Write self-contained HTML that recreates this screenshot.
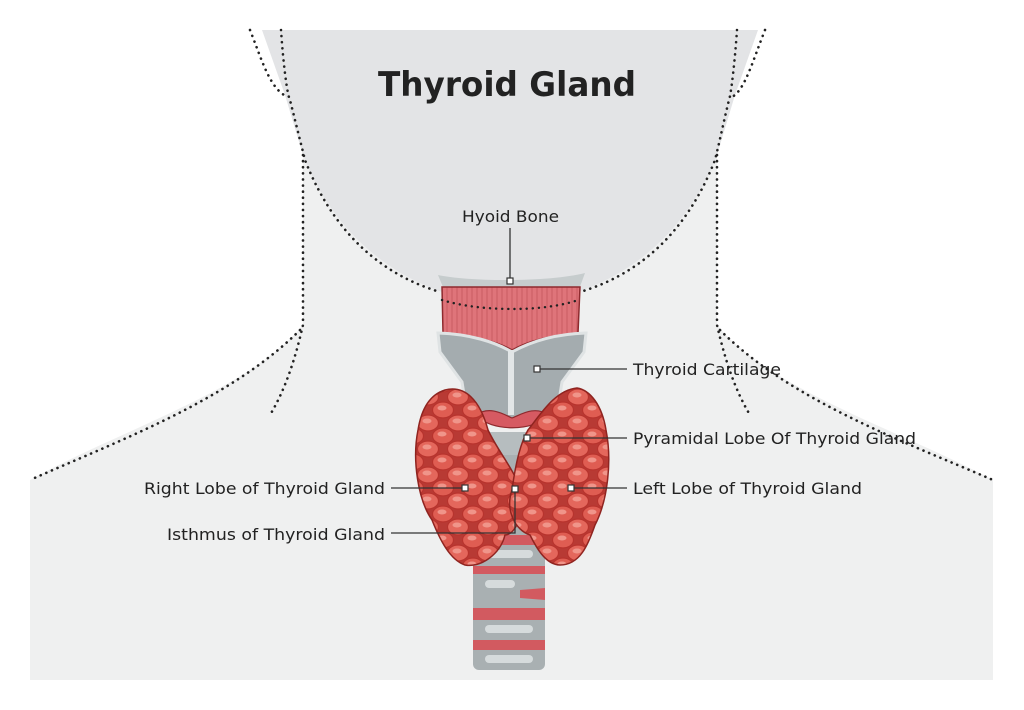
<!DOCTYPE html>
<html><head><meta charset="utf-8"><style>
html,body{margin:0;padding:0;background:#fff;width:1024px;height:710px;overflow:hidden}
svg{display:block}
text{font-family:"DejaVu Sans","Liberation Sans",sans-serif;fill:#222}
</style></head><body>
<svg width="1024" height="710" viewBox="0 0 1024 710">
<defs>
<pattern id="blob" width="30" height="26" patternUnits="userSpaceOnUse">
<rect width="30" height="26" fill="#b83a34"/>
<ellipse cx="8" cy="7" rx="10.5" ry="8" fill="#e4675c" stroke="#b8332d" stroke-width="1.2"/>
<ellipse cx="23" cy="20" rx="10.5" ry="8" fill="#df5d52" stroke="#b8332d" stroke-width="1.2"/>
<ellipse cx="23" cy="-6" rx="10.5" ry="8" fill="#df5d52" stroke="#b8332d" stroke-width="1.2"/>
<ellipse cx="-7" cy="20" rx="10.5" ry="8" fill="#df5d52" stroke="#b8332d" stroke-width="1.2"/>
<ellipse cx="38" cy="7" rx="10.5" ry="8" fill="#e4675c" stroke="#b8332d" stroke-width="1.2"/>
<ellipse cx="8" cy="33" rx="10.5" ry="8" fill="#e4675c" stroke="#b8332d" stroke-width="1.2"/>
<ellipse cx="7" cy="5" rx="4.5" ry="2.5" fill="#f0958a"/>
<ellipse cx="22" cy="18" rx="4.5" ry="2.5" fill="#f0958a"/>
</pattern>
<pattern id="musc" width="5" height="10" patternUnits="userSpaceOnUse">
<rect width="5" height="10" fill="#df747a"/>
<line x1="2" y1="0" x2="2" y2="10" stroke="#c4555d" stroke-width="0.8"/>
</pattern>
</defs>
<path d="M303,155 L303,325 C250,390 120,430 30,480 L30,680 L993,680 L993,480 C900,430 770,390 717,325 L717,155 Z" fill="#eff0f0"/>
<path d="M262,30 L758,30 L735,95 L717,155 C680,250 600,300 510,305 C420,300 340,250 303,155 L285,95 Z" fill="#e3e4e6"/>
<g fill="none" stroke="#222" stroke-width="2.6" stroke-dasharray="0.1 6" stroke-linecap="round">
<path d="M250,30 C262,60 270,90 288,97"/>
<path d="M281,30 C283,60 287,95 290,100 C295,120 300,140 305,160 C340,250 400,280 440,292"/>
<path d="M303,155 L303,325 C295,360 285,390 270,415"/>
<path d="M300,330 C230,400 120,440 30,480"/>
<path d="M765,30 C753,60 745,90 732,97"/>
<path d="M737,30 C735,60 731,95 729,100 C724,120 720,140 715,160 C680,250 620,280 580,292"/>
<path d="M717,155 L717,325 C725,360 735,390 750,415"/>
<path d="M720,330 C790,400 900,440 993,480"/>
</g>
<rect x="473" y="440" width="72" height="230" rx="6" fill="#a9b0b2"/>
<g fill="#d25a60">
<rect x="473" y="535" width="72" height="10"/>
<rect x="473" y="566" width="72" height="8"/>
<path d="M520,590 L545,588 L545,600 L520,598 Z"/>
<rect x="473" y="608" width="72" height="12"/>
<rect x="473" y="640" width="72" height="10"/>
</g>
<g fill="#d6dbdc"><rect x="485" y="550" width="48" height="8" rx="4"/><rect x="485" y="580" width="30" height="8" rx="4"/><rect x="485" y="625" width="48" height="8" rx="4"/><rect x="485" y="655" width="48" height="8" rx="4"/></g>
<path d="M438,275 C470,282 550,282 585,273 L578,292 L445,292 Z" fill="#c6cccd"/>
<path d="M442,287 L580,287 L578,333 C550,336 530,340 512,350 C495,340 470,336 443,333 Z" fill="url(#musc)" stroke="#8e2a2e" stroke-width="1.5"/>
<path d="M442,300 C480,312 545,312 578,300" fill="none" stroke="#222" stroke-width="2.4" stroke-dasharray="0.1 6" stroke-linecap="round"/>
<path d="M438,333 C470,334 495,342 512,352 C530,342 555,334 586,333 L584,352 L562,382 L556,420 L468,420 L462,382 L440,352 Z" fill="#a4acaf" stroke="#dfe3e4" stroke-width="3"/>
<rect x="508" y="350" width="6" height="65" fill="#e2e6e7"/>
<path d="M476,415 C490,405 505,415 512,418 C520,415 535,405 548,415 C535,432 490,432 476,415 Z" fill="#d65a62" stroke="#8e2a2e" stroke-width="1.2"/>
<path d="M478,432 L548,432 L545,455 L480,455 Z" fill="#b6bdbf"/>
<path d="M445,390 C465,385 480,400 488,430 C500,455 515,470 520,490 C525,515 515,535 505,535 C500,555 480,568 465,565 C450,560 440,540 432,520 C418,500 412,460 418,430 C422,405 432,394 445,390 Z" fill="url(#blob)" stroke="#8f2420" stroke-width="1.5"/>
<path d="M577,388 C590,390 602,405 606,430 C612,460 608,500 595,525 C588,545 580,565 560,565 C545,565 535,545 530,535 C515,530 505,510 512,490 C516,460 522,440 528,430 C540,415 555,390 577,388 Z" fill="url(#blob)" stroke="#8f2420" stroke-width="1.5"/>
<text x="507" y="96" font-size="34" font-weight="bold" text-anchor="middle" textLength="258" lengthAdjust="spacingAndGlyphs">Thyroid Gland</text>
<g font-size="16">
<text x="462" y="222" textLength="97" lengthAdjust="spacingAndGlyphs">Hyoid Bone</text>
<text x="633" y="375" textLength="148" lengthAdjust="spacingAndGlyphs">Thyroid Cartilage</text>
<text x="633" y="444" textLength="283" lengthAdjust="spacingAndGlyphs">Pyramidal Lobe Of Thyroid Gland</text>
<text x="633" y="494" textLength="229" lengthAdjust="spacingAndGlyphs">Left Lobe of Thyroid Gland</text>
<text x="144" y="494" textLength="241" lengthAdjust="spacingAndGlyphs">Right Lobe of Thyroid Gland</text>
<text x="167" y="540" textLength="218" lengthAdjust="spacingAndGlyphs">Isthmus of Thyroid Gland</text>
</g>
<g stroke="#333" stroke-width="1.3" fill="none">
<path d="M510,228 L510,281"/>
<path d="M537,369 L627,369"/>
<path d="M527,438 L627,438"/>
<path d="M571,488 L627,488"/>
<path d="M391,488 L465,488"/>
<path d="M391,533 L515,533 L515,489"/>
</g>
<g fill="#fff" stroke="#333" stroke-width="1.2">
<rect x="507" y="278" width="6" height="6"/>
<rect x="534" y="366" width="6" height="6"/>
<rect x="524" y="435" width="6" height="6"/>
<rect x="568" y="485" width="6" height="6"/>
<rect x="462" y="485" width="6" height="6"/>
<rect x="512" y="486" width="6" height="6"/>
</g>
</svg>
</body></html>
